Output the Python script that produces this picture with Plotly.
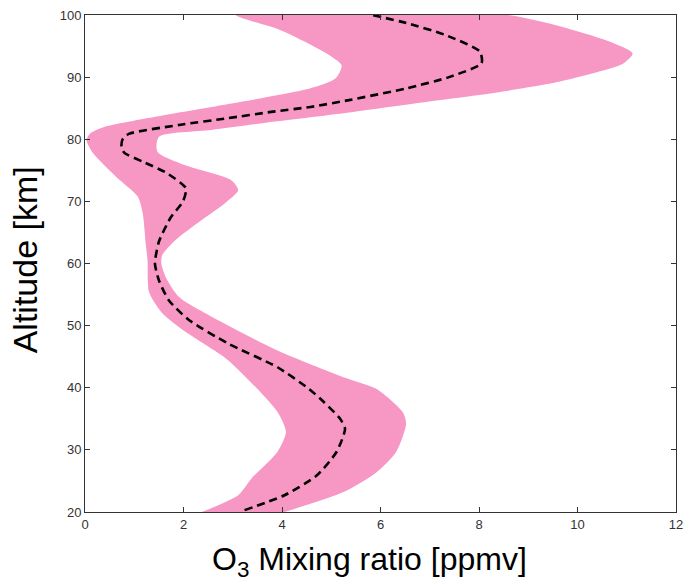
import plotly.graph_objects as go

# Spread envelope: left boundary (bottom to top) and right boundary (top to bottom)
left_alt = [20.0, 22.7, 25.4, 29.7, 32.9, 36.1, 39.4, 44.6, 49.0, 52.0, 55.4, 60.5,
            62.7, 68.2, 70.8, 73.9, 77.7, 79.9, 80.9, 82.0, 83.8, 85.2, 88.2, 89.8,
            91.9, 93.9, 97.6, 100.0]
left_o3 = [2.37, 3.11, 3.38, 3.91, 4.08, 3.91, 3.55, 2.88, 2.04, 1.57, 1.30, 1.27,
           1.24, 1.17, 1.07, 0.64, 0.17, 0.03, 0.10, 0.40, 1.55, 2.57, 4.58, 5.09,
           5.21, 4.89, 3.96, 3.06]

right_alt = [100.0, 95.7, 93.8, 92.2, 91.4, 89.2, 87.4, 86.0, 84.2, 82.9, 81.5, 80.4,
             78.0, 75.8, 73.4, 71.8, 69.7, 67.0, 63.8, 61.4, 60.0, 57.8, 54.6, 51.4,
             46.0, 41.7, 39.8, 36.1, 34.2, 29.7, 26.4, 23.2, 20.0]
right_o3 = [8.59, 10.66, 11.12, 10.93, 10.66, 9.59, 8.26, 6.92, 5.25, 3.91, 2.57, 1.50,
            1.47, 2.04, 2.97, 3.11, 2.84, 2.37, 1.84, 1.57, 1.55, 1.64, 1.91, 2.58,
            3.91, 5.25, 5.92, 6.45, 6.52, 6.32, 5.92, 5.25, 4.05]

# Mean profile
mean_alt = [20.3, 22.7, 25.9, 29.7, 33.4, 35.0, 37.7, 39.8, 43.3, 47.1, 50.9, 54.1,
            57.3, 60.0, 63.5, 67.4, 70.0, 72.1, 74.6, 76.4, 77.8, 78.8, 80.1, 80.9,
            82.3, 83.4, 84.4, 85.2, 86.3, 88.2, 90.0, 92.2, 94.1, 96.8, 98.7, 100.0]
mean_o3 = [3.24, 4.05, 4.71, 5.11, 5.28, 5.18, 4.85, 4.55, 3.91, 2.91, 2.11, 1.70,
           1.50, 1.42, 1.50, 1.74, 1.99, 2.05, 1.65, 1.17, 0.80, 0.74, 0.77, 0.90,
           1.91, 2.91, 3.78, 4.58, 5.36, 6.53, 7.39, 8.05, 8.02, 7.31, 6.53, 5.83]

x_ticks = [0, 2, 4, 6, 8, 10, 12]
y_ticks = [20, 30, 40, 50, 60, 70, 80, 90, 100]

x_title = "O<sub>3</sub> Mixing ratio [ppmv]"
y_title = "Altitude [km]"

title_font = "Arial, Liberation Sans, sans-serif"

fig = go.Figure()

fig.add_trace(go.Scatter(
    x=left_o3 + right_o3,
    y=left_alt + right_alt,
    mode="lines",
    fill="toself",
    fillcolor="#F797C4",
    line=dict(width=0, color="#F797C4", shape="spline", smoothing=0.7),
    hoverinfo="skip",
    showlegend=False,
))

fig.add_trace(go.Scatter(
    x=mean_o3,
    y=mean_alt,
    mode="lines",
    line=dict(color="black", width=2.6, dash="8px,5px", shape="spline", smoothing=0.6),
    showlegend=False,
))

axis_common = dict(
    showline=True,
    linecolor="#333333",
    linewidth=1,
    mirror="ticks",
    ticks="inside",
    ticklen=5,
    tickcolor="#333333",
    showgrid=False,
    zeroline=False,
    tickfont=dict(family=title_font, size=13, color="#333333"),
)

fig.update_layout(
    width=691,
    height=584,
    margin=dict(l=85, r=8, t=15, b=72),
    paper_bgcolor="white",
    plot_bgcolor="white",
    xaxis=dict(range=[0, 12], tickvals=x_ticks,
               ticktext=[str(v) for v in x_ticks], **axis_common),
    yaxis=dict(range=[20, 100], tickvals=y_ticks,
               ticktext=[str(v) for v in y_ticks], **axis_common),
)

# Axis titles placed as paper-anchored text
fig.add_annotation(
    text=x_title, xref="paper", yref="paper",
    x=0.481, y=-0.100, xanchor="center", yanchor="middle",
    showarrow=False, font=dict(family=title_font, size=32, color="black"),
)
fig.add_annotation(
    text=y_title, xref="paper", yref="paper", textangle=-90,
    x=-0.101, y=0.507, xanchor="center", yanchor="middle",
    showarrow=False, font=dict(family=title_font, size=34, color="black"),
)

fig.write_html("out.html")
